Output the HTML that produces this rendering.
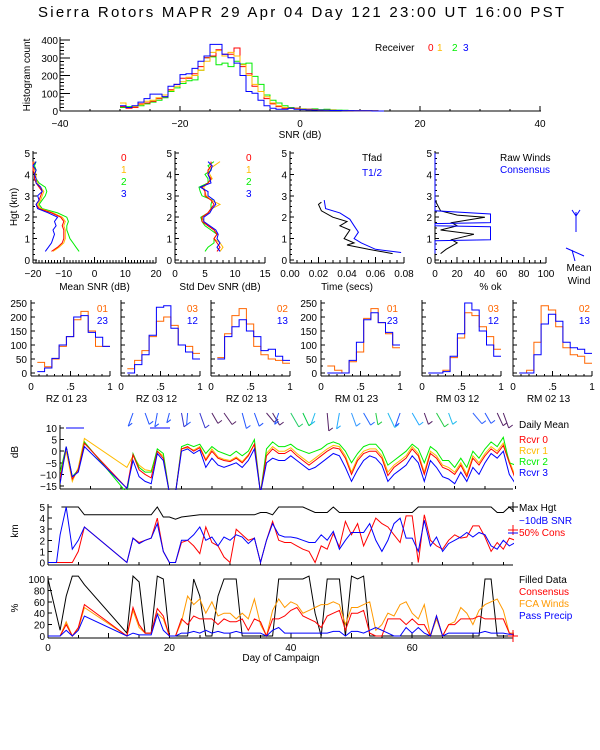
<!DOCTYPE html>
<html><head><meta charset="utf-8">
<style>
html,body{margin:0;padding:0;background:#fff;}
svg{display:block;font-family:"Liberation Sans",sans-serif;}
text{font-size:10px;}
</style></head>
<body>
<svg id="chart" width="600" height="750" viewBox="0 0 600 750" xmlns="http://www.w3.org/2000/svg">
<rect width="600" height="750" fill="#fff"/>
<defs>
<clipPath id="clipDb"><rect x="60" y="424" width="454" height="66"/></clipPath>
<clipPath id="clipKm"><rect x="48" y="500" width="466" height="66"/></clipPath>
<clipPath id="clipP"><rect x="48" y="570" width="466" height="69"/></clipPath>
</defs>
<text x="301" y="17" text-anchor="middle" style="font-size:15px" textLength="526">Sierra Rotors  MAPR 29 Apr 04 Day 121  23:00 UT  16:00  PST</text>
</svg>
<script>
// ---------- DATA ----------
var histBinStart = -30;
var histRed    = [25,15,20,40,45,55,70,80,120,150,185,185,210,250,300,310,345,320,320,355,250,210,140,110,70,40,25,15,15,15,10,10,8,5,5,4,3,3,2,2,2,1,1,0];
var histYellow = [45,20,25,35,55,60,75,90,115,140,165,190,200,230,280,330,340,310,330,310,260,200,150,110,80,45,30,20,15,12,10,8,6,5,4,4,3,2,2,1,1,1,0,0];
var histGreen  = [20,25,25,30,40,50,60,75,110,130,155,170,175,230,300,305,260,270,250,280,265,270,195,150,90,60,45,30,20,15,12,10,12,8,10,6,5,4,3,3,2,2,1,0];
var histBlue   = [30,20,30,50,70,95,95,80,140,150,205,210,240,280,310,375,375,320,300,270,200,110,100,60,30,15,10,10,15,10,8,6,5,5,4,3,3,2,2,1,1,1,0,0];

var profHgt  = [0.4,0.6,0.8,1.0,1.2,1.4,1.6,1.8,2.0,2.2,2.4,2.6,2.8,3.0,3.2,3.4,3.6,3.8,4.0,4.2,4.4,4.6];
var snrRed    = [-14,-12,-10.5,-10,-10,-10,-10.5,-10,-11,-14,-18,-19,-18,-17.5,-17,-18,-19,-19.5,-19.5,-20,-20,-20];
var snrYellow = [-13.5,-11.5,-10,-9.5,-9.5,-9.5,-10,-9.5,-10.5,-13.5,-17.5,-18.5,-17.5,-17,-16.5,-17.5,-18.5,-19,-19,-19.5,-20,-19.5];
var snrGreen  = [-5,-6,-7,-8,-8.5,-9,-9,-8.5,-9,-12,-17,-18,-17,-16,-15.5,-16,-18,-19,-19.5,-19,-19.5,-19];
var snrBlue   = [-16,-15,-14,-13.5,-13,-13.5,-12.5,-13,-12,-15,-18.5,-19,-18,-18.5,-17,-17.5,-19,-19,-19.5,-19,-20,-19];
var sdRed    = [7,7.5,7,6.5,7,6.5,5.5,4.5,4.5,5.5,6,6.5,6,5,5,4.5,5.5,6,5.5,5.5,6,6];
var sdYellow = [7.5,8,7.5,6.5,7,6.5,5.5,4.8,4.5,5.5,6.2,7.5,6,5.2,5,4.8,5.5,6.2,5.8,5.5,6.5,7.5];
var sdGreen  = [5,5.5,6.5,6.5,7,6,5,4.5,4.3,5.5,6,6,6.2,4.5,4.2,4,5.5,5.5,5,6,5.5,6.5];
var sdBlue   = [7.5,7,7.5,7,7.2,6.8,5.8,4.8,4.8,5.8,6.2,6.8,6.5,5.5,5.5,4.2,6,5.8,5.5,6,6.2,5.5];

var tfadHgt = [0.3,0.5,0.7,0.8,1.0,1.2,1.4,1.6,1.8,2.0,2.3,2.6,2.7];
var tfadVal = [0.072,0.055,0.040,0.045,0.038,0.040,0.042,0.035,0.040,0.030,0.022,0.020,0.022];
var thalfHgt = [0.35,0.5,0.8,1.0,1.3,1.6,1.9,2.2,2.4,2.8];
var thalfVal = [0.078,0.060,0.050,0.045,0.048,0.045,0.042,0.035,0.025,0.024];

var rawHgt = [0.3,0.5,0.8,0.95,1.2,1.4,1.6,1.75,2.0,2.1,2.3,2.6,2.8];
var rawVal = [5,10,20,15,35,5,20,15,45,20,5,2,0];
var consHgt = [0.3,0.9,0.95,1.55,1.6,1.7,1.75,2.15,2.3,5.0];
var consVal = [0,0,50,50,0,0,50,50,0,0];

var rBinStart = 0.08, rBinWidth = 0.092;
var rPanelLabels = ["RZ  01 23","RZ  03 12","RZ  02 13","RM  01 23","RM  03 12","RM  02 13"];
var rLegendA = ["01","03","02","01","03","02"];
var rLegendB = ["23","12","13","23","12","13"];
var rOrange = [
 [38,22,50,95,130,190,220,150,95,95],
 [15,45,80,130,185,200,170,100,95,70],
 [55,140,205,230,175,95,65,50,45,35],
 [25,10,0,40,75,195,230,180,140,90],
 [0,0,10,55,125,215,205,165,130,85],
 [0,10,110,240,225,165,90,65,60,35]];
var rBlue = [
 [5,18,52,100,130,200,205,145,128,95],
 [0,30,65,135,235,240,160,100,75,50],
 [50,130,165,190,150,130,80,85,60,45],
 [0,0,0,45,110,190,215,180,145,100],
 [0,0,5,60,140,250,225,150,100,60],
 [0,0,65,175,210,185,110,90,85,70]];

var dbDays = [2,3,4,5,6,13,14,15,16,17,18,19,20,21,22,23,24,25,26,27,28,29,30,31,32,33,34,35,36,37,38,39,40,41,42,43,44,45,46,47,48,49,50,51,52,53,54,55,56,57,58,59,60,61,62,63,64,65,66,67,68,69,70,71,72,73,74,75,76,77];
var dbRed    = [-12,1.8,-12,-8,3.4,-16,-1.5,-8,-10,-11.5,0,-3,-18,-18,1,2,0,1.5,-4,0,-3,-4,-4.5,-3,-5,-2,3,-18,-2,1,-1,-1,0.5,-2,-4,-6,-4,-2,0,1.5,1,-3,-10,-4,-1,0,0,-3,-10.5,-7,-5,-3,1,-2,-10,-1,-3,-7,-8,-10,-6,-11,-3,-6,-2,1,-1,2.5,-5,-12];
var dbYellow = [-11,0,-13,-7,5.5,-7,-2,-6,-8,-8.5,0,-2,-18,-18,1,1.5,0.5,2,-3.5,1,-2.5,-3.5,-4,-2.5,-4.5,-1.5,3,-18,-1,2,0,0,1.5,-1,-3,-5,-3,-1,1,2.5,2,-2,-9,-3,0,1,1,-2,-9,-6,-4,-2,2,-1,-9,0,-2,-6,-7,-9,-5,-10,-2,-5,-1,2,0,3.5,-4,-11];
var dbGreen  = [-9,2,-11,-8,4,-18,-1,-7,-9,-9,1,-1,-18,-18,2,3,2,3,-1,2,0,-1,-2,0,-2,0,5,-18,1,4,2,2,3,1,0,-1,0,1,3,4,3,0,-5,-1,2,3,3,0,-6,-4,-2,0,3,1,-5,2,0,-4,-4,-7,-3,-7,0,-3,1,4,2,6,-5,-6];
var dbBlue   = [-14,2,-11,-9,2,-16,-4,-11,-13,-14,-1,-4,-18,-18,0,1,-1,0.5,-7,-3,-6,-7,-6,-5,-7,-4,1,-18,-5,-3,-4,-4,-2,-4,-6,-8,-7,-5,-3,-1,-2,-7,-13,-8,-4,-2,-3,-6,-13,-10,-8,-6,-2,-5,-13,-4,-7,-11,-12,-14,-9,-13,-7,-10,-5,-1,-3,0,-10,-14];

var barbDays = [14,16,18,20,22,23,25,27,29,32,34,36,37,38,40,42,44,46,48,50,52,54,56,58,60,62,64,66,70,72,74,75];
var barbDirs = [200,160,190,195,170,185,160,150,145,165,160,140,150,200,150,155,200,175,190,160,150,170,155,200,150,160,150,160,140,150,155,160];
var barbLens = [14,12,14,10,14,12,16,12,14,16,14,12,14,12,16,14,12,18,16,14,14,12,16,14,14,12,16,12,14,12,14,16];
var barbCols = ['#2255ff','#2255ff','#2255ff','#2255ff','#3333cc','#2255ff','#3333cc','#552266','#552266','#2255ff','#2255ff','#552266','#552266','#2255ff','#22cc66','#00cc44','#22bbee','#552266','#22aaff','#3399ff','#2266ff','#22cc44','#22bbee','#2255ff','#22aaff','#552266','#22cc44','#22bbee','#3366ff','#2255ff','#552266','#552266'];

var maxDays = [2.2,3,5,6,17,18,19,20,21,22,25,34,35,36,37,38,42,44,46,47,48,60,61,73,74,75,76,77];
var maxHgt  = [5,5,5,4.3,4.3,5,4.1,4.1,3.9,4.1,4.3,4.3,4.5,4.5,4.3,5,5,4.5,4.5,5,4.5,4.5,5,5,4.5,4.5,5,4.5];
var kmDays = [0,1.4,2,3,4,5,6,13,14,15,16,17,18,19,20,21,22,23,24,25,26,27,28,29,30,31,32,33,34,35,36,37,38,39,40,41,42,43,44,45,46,47,48,49,50,51,52,53,54,55,56,57,58,59,60,61,62,63,64,65,66,67,68,69,70,71,72,73,74,75,76,77];
var snr10Hgt = [0,0,2.5,5,1.2,2,3.2,0,2.2,1.7,2,2.2,3.5,1,0,0,2,2,2.5,3.2,2,2.3,1.5,2.3,2,2.5,2.3,1.7,2.2,0,2,3.5,2.5,2.3,2.3,2.2,2,1.8,1.8,2.5,2,2.8,1.2,2,2.7,2.7,2.7,3.5,2,1,2,3.5,4,2.2,2.2,1,3.8,1.5,2.3,1,1.7,2,2.3,2.7,2.3,2.7,2.5,1.5,1.2,2,1.5,1.8];
var consHgtDay = [0,0,0,0,0,1,3.2,0,2.2,1.8,2,2.2,4,1,0,0,1.8,2,1.5,0.8,3.2,1.8,1.5,0.5,0,3,2.5,2,2.2,0,2,3.7,2,1.8,1.8,1.5,1.2,1,0,1.5,1.2,2.6,1.4,3.7,2.5,3.5,1.5,2.7,4,3.5,3.2,2.5,1.8,4.2,4.2,0,4.3,2,1.5,1.2,2,2.5,2.2,2.3,3.3,3.3,2.3,1,1.8,1.2,2.2,2];

var pDays = [0,2,3,4,5,6,13,14,15,16,17,18,19,20,21,22,23,24,25,26,27,28,29,30,31,32,33,34,35,36,37,38,39,40,41,42,43,44,45,46,47,48,49,50,51,52,53,54,55,56,57,58,59,60,61,62,63,64,65,66,67,68,69,70,71,72,73,74,75,76,77];
var pFilled = [100,10,70,105,105,90,5,105,95,5,5,105,100,0,0,0,0,100,70,0,0,70,100,100,100,0,0,0,0,0,0,100,100,100,100,100,105,40,0,100,100,100,0,105,100,105,0,0,0,0,0,0,0,0,0,0,0,0,0,0,0,0,0,0,0,100,100,0,0,0,0,0];
var pCons = [0,0,20,0,15,55,0,50,20,5,5,48,35,0,0,30,20,35,30,30,30,20,30,25,25,30,10,30,25,0,30,30,35,45,50,35,30,25,15,35,40,45,10,40,40,45,5,0,0,30,30,30,20,30,20,20,0,35,0,20,20,30,30,30,35,30,30,30,30,5,0];
var pFca  = [0,0,25,0,12,50,0,45,15,5,5,40,30,0,0,25,70,55,65,40,60,35,40,40,30,40,30,65,20,0,45,65,50,60,55,40,45,50,55,55,60,55,20,50,50,55,60,10,20,40,35,55,60,40,30,55,0,30,0,20,25,50,40,20,45,55,60,65,45,5,5];
var pPrecip = [0,0,10,0,10,35,0,5,2,2,2,38,10,0,0,5,5,8,5,10,5,8,5,5,8,5,5,5,5,0,10,15,5,5,5,5,5,5,5,5,8,8,0,8,8,5,10,15,10,5,0,0,15,5,15,5,0,35,0,5,5,5,5,5,5,8,5,5,5,3,3];

// ---------- DRAWING HELPERS ----------
var svg = document.getElementById('chart');
var NS = 'http://www.w3.org/2000/svg';
function mk(tag, attrs, name, parent) {
  var el = document.createElementNS(NS, tag);
  for (var k in attrs) el.setAttribute(k, attrs[k]);
  
  
  (parent || svg).appendChild(el);
  return el;
}
function ln(x1,y1,x2,y2,name,c) { return mk('line',{x1:x1,y1:y1,x2:x2,y2:y2,stroke:c||'#000','stroke-width':1,'shape-rendering':'crispEdges'},name); }
function tx(x,y,s,name,opt) {
  opt = opt || {};
  var a = {x:x,y:y,fill:opt.fill||'#000','text-anchor':opt.anchor||'start'};
  if (opt.size) a.style = 'font-size:'+opt.size+'px';
  if (opt.rot) a.transform = 'rotate(-90 '+x+' '+y+')';
  var t = mk('text',a,name); t.textContent = s; return t;
}
function poly(pts,color,name,clip) {
  var a = {points:pts.map(function(p){return p[0].toFixed(1)+','+p[1].toFixed(1);}).join(' '),fill:'none',stroke:color,'stroke-width':1};
  if (clip) a['clip-path'] = 'url(#'+clip+')';
  return mk('polyline',a,name);
}
function series(xs,ys,fx,fy) { return xs.map(function(v,i){return [fx(v),fy(ys[i])];}); }
function profile(hs,vs,fx,fy) { return hs.map(function(h,i){return [fx(vs[i]),fy(h)];}); }
function steps(start,width,vals,fx,fy) {
  var p=[];
  vals.forEach(function(v,i){ p.push([fx(start+i*width),fy(v)]); p.push([fx(start+(i+1)*width),fy(v)]); });
  return p;
}
function stepsY(hs,vs,fx,fy){ var p=[]; hs.forEach(function(h,i){p.push([fx(vs[i]),fy(h)]);}); return p; }
var RED='#ff0000', YEL='#ffbb00', GRN='#00ee00', BLU='#0000ff', ORG='#ff6600';

// ---------- HISTOGRAM ----------
(function(){
  var fx=function(v){return 60+(v+40)*6;}, fy=function(c){return 111-c*71/400;};
  ln(60,111,541,111,'hist-x-axis'); ln(60,111,60,37,'hist-y-axis');
  [-40,-20,0,20,40].forEach(function(v){ ln(fx(v),111,fx(v),106,'hist-x-tick'); tx(fx(v),127,String(v).replace('-','\u2212'),'hist-x-tick-label',{anchor:'middle'}); });
  for (var v=-40; v<=40; v+=5) ln(fx(v),111,fx(v),109,'hist-x-minor-tick');
  for (var c=0;c<=400;c+=20) ln(60,fy(c),c%100?64:70,fy(c),'hist-y-tick');
  [0,100,200,300,400].forEach(function(c){ tx(58,fy(c)+4,String(c),'hist-y-tick-label',{anchor:'end'}); });
  tx(30,75,'Histogram count','hist-y-title',{anchor:'middle',rot:true});
  tx(300,138,'SNR (dB)','hist-x-title',{anchor:'middle'});
  tx(375,51,'Receiver','hist-legend-title');
  tx(428,51,'0','hist-legend-0',{fill:RED}); tx(437,51,'1','hist-legend-1',{fill:YEL});
  tx(452,51,'2','hist-legend-2',{fill:GRN}); tx(463,51,'3','hist-legend-3',{fill:BLU});
  poly(steps(histBinStart,1,histGreen,fx,fy),GRN,'hist-rcvr2');
  poly(steps(histBinStart,1,histRed,fx,fy),RED,'hist-rcvr0');
  poly(steps(histBinStart,1,histYellow,fx,fy),YEL,'hist-rcvr1');
  poly(steps(histBinStart,1,histBlue,fx,fy),BLU,'hist-rcvr3');
})();

// ---------- PROFILE ROW ----------
var fyk = function(h){return 260-h*21.4;};
function profAxes(x0,x1,vmin,vmax,ticks,labels,title,name,minorN){
  var fx=function(v){return x0+(v-vmin)/(vmax-vmin)*(x1-x0);};
  ln(x0,263,x1,263,name+'-x-axis'); ln(x0,263,x0,151,name+'-y-axis');
  for (var i=0;i<=minorN;i++){ var xx=x0+i*(x1-x0)/minorN; ln(xx,263,xx,260,name+'-x-minor-tick'); }
  ticks.forEach(function(v,i){ ln(fx(v),263,fx(v),257,name+'-x-tick'); tx(fx(v),277,labels[i],name+'-x-tick-label',{anchor:'middle'}); });
  for (var h=0;h<=5;h+=0.25) ln(x0,fyk(h),x0+(h%1?2:4),fyk(h),name+'-y-tick');
  for (var k=0;k<=5;k++) tx(x0-3,fyk(k)+4,String(k),name+'-y-tick-label',{anchor:'end'});
  tx((x0+x1)/2,290,title,name+'-x-title',{anchor:'middle'});
  return fx;
}
(function(){
  var f1=profAxes(33,156,-20,20,[-20,-10,0,10,20],['\u221220','\u221210','0','10','20'],'Mean SNR (dB)','mean-snr',40);
  tx(17,207,'Hgt (km)','height-axis-title',{anchor:'middle',rot:true});
  [['0',RED],['1',YEL],['2',GRN],['3',BLU]].forEach(function(l,i){ tx(121,161+i*12,l[0],'mean-snr-legend-'+l[0],{fill:l[1]}); });
  poly(profile(profHgt,snrGreen,f1,fyk),GRN,'mean-snr-rcvr2');
  poly(profile(profHgt,snrYellow,f1,fyk),YEL,'mean-snr-rcvr1');
  poly(profile(profHgt,snrRed,f1,fyk),RED,'mean-snr-rcvr0');
  poly(profile(profHgt,snrBlue,f1,fyk),BLU,'mean-snr-rcvr3');

  var f2=profAxes(175,265,0,15,[0,5,10,15],['0','5','10','15'],'Std Dev SNR (dB)','std-snr',15);
  [['0',RED],['1',YEL],['2',GRN],['3',BLU]].forEach(function(l,i){ tx(246,161+i*12,l[0],'std-snr-legend-'+l[0],{fill:l[1]}); });
  poly(profile(profHgt,sdGreen,f2,fyk),GRN,'std-snr-rcvr2');
  poly(profile(profHgt,sdYellow,f2,fyk),YEL,'std-snr-rcvr1');
  poly(profile(profHgt,sdRed,f2,fyk),RED,'std-snr-rcvr0');
  poly(profile(profHgt,sdBlue,f2,fyk),BLU,'std-snr-rcvr3');

  var f3=profAxes(290,404,0,0.08,[0,0.02,0.04,0.06,0.08],['0.00','0.02','0.04','0.06','0.08'],'Time (secs)','time',16);
  tx(362,161,'Tfad','time-legend-tfad'); tx(362,176,'T1/2','time-legend-thalf',{fill:BLU});
  poly(profile(tfadHgt,tfadVal,f3,fyk),'#000','time-tfad-line');
  poly(profile(thalfHgt,thalfVal,f3,fyk),BLU,'time-thalf-line');

  var f4=profAxes(435,546,0,100,[0,20,40,60,80,100],['0','20','40','60','80','100'],'% ok','pct-ok',20);
  tx(500,161,'Raw Winds','pct-ok-legend-raw'); tx(500,173,'Consensus','pct-ok-legend-consensus',{fill:BLU});
  poly(profile(rawHgt,rawVal,f4,fyk),'#000','pct-ok-raw-line');
  poly(stepsY(consHgt,consVal,f4,fyk),BLU,'pct-ok-consensus-line');

  poly([[576,212],[576,232]],BLU,'mean-wind-barb'); poly([[576,216],[572,210]],BLU,'mean-wind-barb');
  poly([[576,216],[580,210]],BLU,'mean-wind-barb');
  poly([[566,248],[584,256]],BLU,'mean-wind-barb'); poly([[572,250],[575,261]],BLU,'mean-wind-barb');
  tx(579,271,'Mean','mean-wind-label',{anchor:'middle'}); tx(579,284,'Wind','mean-wind-label',{anchor:'middle'});
})();

// ---------- RATIO HISTOGRAM ROW ----------
(function(){
  var x0s=[31,121,211,321,422,513], w=79;
  var fy=function(c){return 373-c*70/250;};
  x0s.forEach(function(x0,p){
    var fx=function(v){return x0+v*w;};
    var nm='ratio-panel-'+(p+1);
    ln(x0,376,x0+w,376,nm+'-x-axis'); ln(x0,376,x0,300,nm+'-y-axis');
    for (var c=0;c<=250;c+=25) ln(x0,fy(c),x0+(c%50?2:4),fy(c),nm+'-y-tick');
    [0,0.5,1].forEach(function(v,i){ ln(fx(v),376,fx(v),371,nm+'-x-tick'); tx(fx(v),390,['0','.5','1'][i],nm+'-x-tick-label',{anchor:'middle'}); });
    for (var m=0;m<=10;m++) ln(fx(m/10),376,fx(m/10),374,nm+'-x-minor-tick');
    if (p===0||p===3) [0,50,100,150,200,250].forEach(function(c){ tx(x0-4,fy(c)+4,String(c),nm+'-y-tick-label',{anchor:'end'}); });
    tx(x0+w/2-4,402,rPanelLabels[p],nm+'-title',{anchor:'middle'});
    tx(x0+w-2,312,rLegendA[p],nm+'-legend-a',{anchor:'end',fill:ORG});
    tx(x0+w-2,324,rLegendB[p],nm+'-legend-b',{anchor:'end',fill:BLU});
    poly(steps(rBinStart,rBinWidth,rOrange[p],fx,fy),ORG,nm+'-orange-hist');
    poly(steps(rBinStart,rBinWidth,rBlue[p],fx,fy),BLU,nm+'-blue-hist');
  });
})();

// ---------- TIME SERIES ----------
var fd = function(d){return 48+d*6.07;};
(function(){
  // wind barbs above dB panel
  barbDays.forEach(function(d,i){
    var x=fd(d), y=413, a=barbDirs[i]*Math.PI/180, L=barbLens[i];
    var x2=x+Math.sin(a)*L, y2=y-Math.cos(a)*L;
    poly([[x,y],[x2,y2]],barbCols[i],'daily-wind-barb');
    poly([[x2,y2],[x2+4,y2-3]],barbCols[i],'daily-wind-barb');
  });
  ln(66,428,84,428,'daily-wind-barb-calm',BLU); ln(150,428,170,428,'daily-wind-barb-calm',BLU);

  // dB panel
  var fy=function(v){return 428+(10-v)*58/25;};
  ln(60,489,513,489,'daily-db-x-axis'); ln(60,489,60,425,'daily-db-y-axis');
  for (var d=2; d<=77; d+=5) ln(fd(d),489,fd(d),486,'daily-db-x-tick');
  [10,5,0,-5,-10,-15].forEach(function(v){ ln(60,fy(v),64,fy(v),'daily-db-y-tick'); tx(57,fy(v)+4,String(v).replace('-','\u2212'),'daily-db-y-tick-label',{anchor:'end'}); });
  tx(18,452,'dB','daily-db-y-title',{anchor:'middle',rot:true});
  tx(519,428,'Daily Mean','daily-db-legend-title');
  tx(519,443,'Rcvr 0','daily-db-legend-0',{fill:RED}); tx(519,454,'Rcvr 1','daily-db-legend-1',{fill:YEL});
  tx(519,465,'Rcvr 2','daily-db-legend-2',{fill:GRN}); tx(519,476,'Rcvr 3','daily-db-legend-3',{fill:BLU});
  poly(series(dbDays,dbYellow,fd,fy),YEL,'daily-db-rcvr1','clipDb');
  poly(series(dbDays,dbGreen,fd,fy),GRN,'daily-db-rcvr2','clipDb');
  poly(series(dbDays,dbRed,fd,fy),RED,'daily-db-rcvr0','clipDb');
  poly(series(dbDays,dbBlue,fd,fy),BLU,'daily-db-rcvr3','clipDb');

  // km panel
  var fk=function(v){return 562.5-v*11.1;};
  ln(48,565,513,565,'daily-km-x-axis'); ln(48,565,48,504,'daily-km-y-axis');
  for (var d2=0; d2<=75; d2+=5) ln(fd(d2),565,fd(d2),562,'daily-km-x-tick');
  [0,1,2,3,4,5].forEach(function(v){ ln(48,fk(v),52,fk(v),'daily-km-y-tick'); tx(45,fk(v)+4,String(v),'daily-km-y-tick-label',{anchor:'end'}); });
  tx(18,531,'km','daily-km-y-title',{anchor:'middle',rot:true});
  tx(519,511,'Max Hgt','daily-km-legend-max'); tx(519,524,'\u221210dB SNR','daily-km-legend-snr',{fill:BLU});
  tx(519,536,'50% Cons','daily-km-legend-cons',{fill:RED});
  poly(series(maxDays,maxHgt,fd,fk),'#000','daily-max-hgt-line','clipKm');
  poly(series(kmDays,consHgtDay,fd,fk),RED,'daily-cons-hgt-line','clipKm');
  poly(series(kmDays,snr10Hgt,fd,fk),BLU,'daily-snr10-hgt-line','clipKm');
  ln(508,507,518,507,'max-hgt-marker'); ln(513,502,513,512,'max-hgt-marker');
  ln(508,530,518,530,'cons-marker',RED); ln(513,525,513,535,'cons-marker',RED);
  ln(508,533,518,533,'snr-marker',BLU);

  // percent panel
  var fp=function(v){return 636-v*0.57;};
  ln(48,638,513,638,'daily-pct-x-axis'); ln(48,638,48,576,'daily-pct-y-axis');
  for (var d3=0; d3<=75; d3+=5) ln(fd(d3),638,fd(d3),d3%10?635:633,'daily-pct-x-tick');
  [0,20,40,60,80,100].forEach(function(v){ ln(48,fp(v),52,fp(v),'daily-pct-y-tick'); tx(45,fp(v)+4,String(v),'daily-pct-y-tick-label',{anchor:'end'}); });
  [0,20,40,60].forEach(function(v){ tx(fd(v),651,String(v),'day-x-tick-label',{anchor:'middle'}); });
  tx(281,661,'Day of Campaign','day-x-title',{anchor:'middle'});
  tx(18,608,'%','daily-pct-y-title',{anchor:'middle',rot:true});
  tx(519,583,'Filled Data','daily-pct-legend-filled'); tx(519,595,'Consensus','daily-pct-legend-cons',{fill:RED});
  tx(519,607,'FCA Winds','daily-pct-legend-fca',{fill:'#ff9900'}); tx(519,619,'Pass Precip','daily-pct-legend-precip',{fill:BLU});
  poly(series(pDays,pFilled,fd,fp),'#000','daily-filled-line','clipP');
  poly(series(pDays,pFca,fd,fp),'#ff9900','daily-fca-line','clipP');
  poly(series(pDays,pCons,fd,fp),RED,'daily-cons-line','clipP');
  poly(series(pDays,pPrecip,fd,fp),BLU,'daily-precip-line','clipP');
  ln(508,636,518,636,'pct-end-marker',RED); ln(513,630,513,642,'pct-end-marker',RED);
})();
</script>
</body></html>
